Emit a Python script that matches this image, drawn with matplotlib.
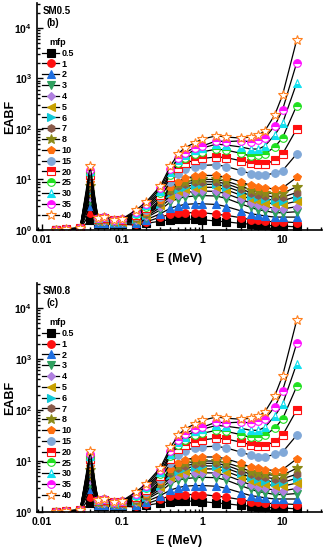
import math
import matplotlib
matplotlib.use("Agg")
import matplotlib.pyplot as plt
from matplotlib.ticker import FuncFormatter, LogLocator, NullFormatter

# --- Ayarlar ---
plt.rcParams["font.family"] = ["Liberation Sans", "DejaVu Sans"]
plt.rcParams["font.weight"] = "bold"
plt.rcParams["mathtext.fontset"] = "custom"
plt.rcParams["mathtext.bf"] = "Liberation Sans:bold"
plt.rcParams["mathtext.rm"] = "Liberation Sans:bold"

# --- Veri ---
energy = [0.015, 0.02, 0.03, 0.04, 0.05, 0.06, 0.08, 0.1, 0.15, 0.2, 0.3, 0.4,
          0.5, 0.6, 0.8, 1, 1.5, 2, 3, 4, 5, 6, 8, 10, 15]
mfp = ["0.5", "1", "2", "3", "4", "5", "6", "7", "8", "10", "15", "20", "25", "30", "35", "40"]

# EABF, SM0.5 (satir = mfp, sutun = enerji)
eabf_sm05 = [
    [1.0, 1.0, 1.02, 1.6, 1.3, 1.3, 1.3, 1.3, 1.25, 1.35, 1.5, 1.6, 1.65, 1.65, 1.62, 1.6, 1.5, 1.45, 1.35, 1.3, 1.28, 1.25, 1.2, 1.2, 1.15],
    [1.0, 1.0, 1.03, 2.2, 1.35, 1.35, 1.35, 1.35, 1.3, 1.45, 1.8, 2.05, 2.15, 2.2, 2.2, 2.2, 2.05, 1.95, 1.75, 1.6, 1.55, 1.5, 1.45, 1.45, 1.4],
    [1.0, 1.01, 1.04, 3.0, 1.4, 1.4, 1.38, 1.38, 1.4, 1.6, 2.1, 2.7, 3.0, 3.2, 3.3, 3.3, 3.2, 2.9, 2.4, 2.1, 2.0, 1.9, 1.8, 1.8, 1.8],
    [1.0, 1.01, 1.05, 3.8, 1.45, 1.45, 1.4, 1.4, 1.5, 1.75, 2.5, 3.6, 4.2, 4.5, 4.7, 4.8, 4.7, 4.2, 3.3, 2.8, 2.5, 2.4, 2.2, 2.2, 2.3],
    [1.0, 1.01, 1.05, 4.5, 1.5, 1.5, 1.42, 1.42, 1.55, 1.85, 2.8, 4.2, 5.0, 5.5, 5.8, 5.9, 5.8, 5.2, 4.1, 3.4, 3.1, 2.9, 2.7, 2.6, 2.9],
    [1.0, 1.02, 1.06, 5.2, 1.5, 1.55, 1.45, 1.45, 1.6, 1.95, 3.1, 4.8, 5.8, 6.4, 6.9, 7.0, 7.0, 6.2, 4.9, 4.1, 3.7, 3.5, 3.3, 3.2, 3.7],
    [1.0, 1.02, 1.06, 6.0, 1.55, 1.6, 1.47, 1.47, 1.65, 2.0, 3.3, 5.3, 6.5, 7.2, 7.8, 8.0, 8.0, 7.2, 5.7, 4.8, 4.4, 4.1, 3.9, 3.8, 4.6],
    [1.0, 1.02, 1.07, 6.8, 1.55, 1.62, 1.5, 1.5, 1.7, 2.1, 3.5, 5.8, 7.3, 8.0, 8.8, 9.0, 9.0, 8.2, 6.5, 5.5, 5.0, 4.8, 4.5, 4.5, 5.5],
    [1.0, 1.02, 1.07, 7.5, 1.6, 1.65, 1.5, 1.52, 1.7, 2.2, 3.7, 6.3, 8.0, 9.0, 9.8, 10.0, 10.0, 9.2, 7.5, 6.2, 5.8, 5.5, 5.2, 5.3, 7.2],
    [1.0, 1.03, 1.08, 9.0, 1.6, 1.68, 1.52, 1.55, 1.8, 2.3, 4.0, 7.0, 9.0, 10.5, 11.5, 12.0, 12.0, 11.0, 9.0, 7.6, 7.2, 6.8, 6.5, 6.8, 11.0],
    [1.0, 1.03, 1.08, 11.0, 1.65, 1.72, 1.55, 1.58, 1.9, 2.5, 4.5, 9.0, 13.0, 16.0, 18.0, 19.0, 19.5, 18.0, 15.0, 13.0, 12.0, 12.0, 13.5, 15.0, 32.0],
    [1.0, 1.04, 1.09, 12.5, 1.65, 1.75, 1.56, 1.6, 2.0, 2.7, 5.0, 11.0, 17.0, 21.0, 24.0, 26.0, 28.0, 27.0, 23.5, 21.0, 20.0, 20.0, 24.0, 32.0, 100.0],
    [1.0, 1.04, 1.09, 13.5, 1.68, 1.77, 1.57, 1.62, 2.1, 2.9, 5.5, 12.5, 21.0, 26.0, 32.0, 35.0, 40.0, 38.0, 33.0, 29.0, 30.0, 32.0, 44.0, 67.0, 290.0],
    [1.0, 1.05, 1.1, 14.5, 1.7, 1.78, 1.58, 1.63, 2.2, 3.1, 6.0, 14.0, 24.0, 30.0, 38.0, 42.0, 50.0, 48.0, 44.0, 40.0, 40.0, 46.0, 76.0, 130.0, 810.0],
    [1.0, 1.05, 1.1, 15.5, 1.7, 1.8, 1.6, 1.64, 2.3, 3.3, 6.8, 16.0, 26.0, 34.0, 42.0, 46.0, 58.0, 56.0, 58.0, 56.0, 60.0, 66.0, 115.0, 240.0, 2040.0],
    [1.0, 1.05, 1.1, 18.5, 1.72, 1.82, 1.6, 1.65, 2.5, 3.6, 7.4, 18.5, 32.0, 42.0, 53.0, 63.0, 73.0, 69.0, 66.0, 69.0, 76.0, 91.0, 190.0, 470.0, 5750.0],
]

# SM0.8: 0.04 MeV tepe degerleri (geri kalan SM0.5 ile neredeyse ayni)
peak_sm08 = [1.5, 2.0, 2.8, 3.5, 4.2, 4.8, 5.5, 6.2, 6.8, 8.0, 9.5, 11.0, 12.0, 12.8, 13.5, 15.5]

colors = ["black", "#ff1010", "#1f6fe0", "#30a060", "#b080e0", "#c8a000", "#10c8d8",
          "#8a5a4a", "#8a8a18", "#ff7010", "#80a8d8", "#ff1010", "#20e020", "#10e0f0",
          "#ff10ff", "#ff8020"]
markers = ["s", "o", "^", "v", "D", "<", ">", "h", "*", "p", "o", "s", "o", "^", "o", "*"]
fills = ["full"] * 11 + ["top", "top", "bottom", "top", "none"]


def panel(ax, data, name, tag):
    for i, lab in enumerate(mfp):
        ms = 7.5 if markers[i] == "*" else 5.5
        if markers[i] == "D":
            ms = 4.5
        kw = dict(color="black", lw=0.9, marker=markers[i], ms=ms,
                  mec=colors[i], mfc=colors[i], mew=0.8, label=lab)
        if fills[i] == "none":
            kw["mfc"] = "white"
        elif fills[i] != "full":
            kw["fillstyle"] = fills[i]
            kw["markerfacecoloralt"] = "white"
        ax.plot(energy, data[i], **kw)

    ax.set_xscale("log")
    ax.set_yscale("log")
    ax.set_xlim(0.0087, 31)
    ax.set_ylim(1, 3.1e4)
    for s in ["top", "right"]:
        ax.spines[s].set_visible(False)
    ax.spines["left"].set_linewidth(1.2)
    ax.spines["bottom"].set_linewidth(1.2)
    ax.tick_params(which="both", direction="in", labelsize=7.5, width=1)
    ax.tick_params(which="major", length=4)
    ax.tick_params(which="minor", length=2)
    ax.yaxis.set_major_locator(LogLocator(base=10, numticks=10))
    ax.yaxis.set_minor_locator(LogLocator(base=10, subs=range(2, 10), numticks=20))
    ax.yaxis.set_minor_formatter(NullFormatter())
    ax.yaxis.set_major_formatter(FuncFormatter(lambda v, p: r"$\mathbf{10^{%d}}$" % round(math.log10(v))))
    ax.xaxis.set_major_formatter(FuncFormatter(lambda v, p: "%g" % v))
    ax.xaxis.set_minor_formatter(NullFormatter())
    ax.set_xlabel("E (MeV)", fontsize=9, fontweight="bold", labelpad=6)
    ax.set_ylabel("EABF", fontsize=9, fontweight="bold")
    ax.yaxis.set_label_coords(-0.072, 0.5)
    ax.text(0.02, 0.985, name, transform=ax.transAxes, fontsize=7, fontweight="bold", va="top")
    ax.text(0.035, 0.935, tag, transform=ax.transAxes, fontsize=7, fontweight="bold", va="top")
    leg = ax.legend(title="mfp", loc="upper left", bbox_to_anchor=(0.0, 0.87),
                    frameon=False, fontsize=6.5, title_fontsize=6.5, handlelength=1.8,
                    handletextpad=0.3, labelspacing=0.2, borderaxespad=0.2)
    leg.get_title().set_fontweight("bold")


fig = plt.figure(figsize=(3.25, 5.5), dpi=100)
ax1 = fig.add_axes([37 / 325, 1 - 230 / 550, 285 / 325, 227 / 550])
ax2 = fig.add_axes([37 / 325, 1 - 512 / 550, 285 / 325, 229 / 550])

panel(ax1, eabf_sm05, "SM0.5", "(b)")

eabf_sm08 = [row[:3] + [peak_sm08[i]] + row[4:] for i, row in enumerate(eabf_sm05)]
panel(ax2, eabf_sm08, "SM0.8", "(c)")

fig.savefig("out.png", dpi=100)
plt.close(fig)
print("[OK] out.png")
